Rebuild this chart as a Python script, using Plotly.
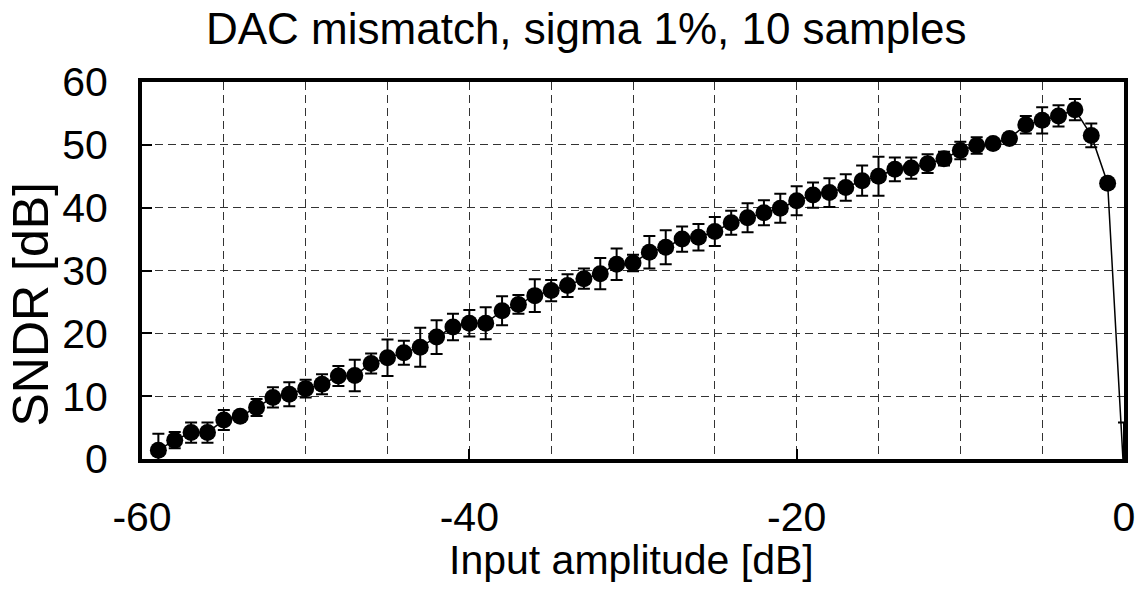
import plotly.graph_objects as go

# Input amplitude [dB]
amplitude = [-59, -58, -57, -56, -55, -54, -53, -52, -51, -50,
             -49, -48, -47, -46, -45, -44, -43, -42, -41, -40,
             -39, -38, -37, -36, -35, -34, -33, -32, -31, -30,
             -29, -28, -27, -26, -25, -24, -23, -22, -21, -20,
             -19, -18, -17, -16, -15, -14, -13, -12, -11, -10,
             -9, -8, -7, -6, -5, -4, -3, -2, -1, 0]

# Mean SNDR [dB]
sndr = [1.4, 3.0, 4.2, 4.2, 6.2, 6.8, 8.2, 9.8, 10.3, 11.2,
        11.9, 13.2, 13.3, 15.2, 16.1, 16.9, 17.8, 19.4, 21.0, 21.6,
        21.6, 23.6, 24.6, 26.0, 26.8, 27.6, 28.7, 29.5, 31.0, 31.2,
        32.9, 33.7, 35.0, 35.3, 36.2, 37.6, 38.4, 39.2, 39.9, 41.1,
        42.0, 42.4, 43.2, 44.3, 45.0, 46.1, 46.3, 47.0, 47.8, 49.1,
        49.9, 50.2, 51.0, 53.2, 53.9, 54.6, 55.6, 51.5, 43.9, -3.0]

# Standard deviation over 10 samples [dB]
sndr_std = [2.6, 1.3, 1.6, 1.6, 1.6, 0.3, 1.35, 1.6, 1.9, 1.4,
            1.6, 1.6, 2.5, 1.6, 2.9, 1.9, 3.1, 2.7, 2.1, 2.1,
            2.55, 2.3, 1.5, 2.6, 1.7, 1.8, 1.6, 2.5, 2.5, 1.3,
            2.6, 2.7, 2.0, 2.1, 2.3, 1.9, 2.3, 2.0, 2.3, 2.3,
            2.0, 2.3, 2.1, 2.4, 3.1, 1.9, 1.7, 1.5, 1.1, 1.4,
            1.3, 0.7, 0.8, 1.4, 2.1, 1.7, 1.7, 1.9, 0.3, 8.8]

x_ticks = [-60, -40, -20, 0]
y_ticks = [0, 10, 20, 30, 40, 50, 60]

title_text = "DAC mismatch, sigma 1%, 10 samples"
x_title = "Input amplitude [dB]"
y_title = "SNDR [dB]"

FONT = "Liberation Sans, Arial, sans-serif"
GRID_COLOR = "#333333"

fig = go.Figure()
fig.add_trace(go.Scatter(
    x=amplitude, y=sndr,
    mode="lines+markers",
    line=dict(color="black", width=1.5),
    marker=dict(color="black", size=17),
    error_y=dict(type="data", array=sndr_std, visible=True,
                 color="black", thickness=2, width=6),
    showlegend=False,
))

grid = dict(showgrid=True, gridcolor=GRID_COLOR, gridwidth=1, griddash="8px,5px")

fig.update_layout(
    width=1147, height=594,
    margin=dict(l=142, r=18, t=82, b=135),
    paper_bgcolor="white", plot_bgcolor="white",
    font=dict(family=FONT, color="black", size=42),
    xaxis=dict(
        range=[-60, 0], tickvals=x_ticks, ticktext=[str(v) for v in x_ticks],
        showline=True, linecolor="black", linewidth=4, mirror=True,
        ticks="inside", ticklen=10, tickwidth=2, tickcolor="black",
        tickfont=dict(size=41), ticklabelstandoff=19,
        minor=dict(dtick=5, tick0=0, showgrid=True, gridcolor=GRID_COLOR,
                   gridwidth=1, griddash="8px,5px"),
        zeroline=False, **grid,
    ),
    yaxis=dict(
        range=[0, 60], tickvals=y_ticks,
        showline=True, linecolor="black", linewidth=4, mirror=True,
        ticks="inside", ticklen=10, tickwidth=2, tickcolor="black",
        tickfont=dict(size=41), ticklabelstandoff=22,
        zeroline=False, **grid,
    ),
    annotations=[
        dict(text=title_text, xref="paper", yref="paper",
             x=(588 - 142) / 987, y=(459 - 28) / 377,
             xanchor="center", yanchor="middle", showarrow=False,
             font=dict(size=44)),
        dict(text=x_title, xref="paper", yref="paper",
             x=(634 - 142) / 987, y=(459 - 560) / 377,
             xanchor="center", yanchor="middle", showarrow=False,
             font=dict(size=41)),
        dict(text=y_title, xref="paper", yref="paper",
             x=(30 - 142) / 987, y=(459 - 304) / 377, textangle=-90,
             xanchor="center", yanchor="middle", showarrow=False,
             font=dict(size=50)),
    ],
)

fig.write_html("out.html")
